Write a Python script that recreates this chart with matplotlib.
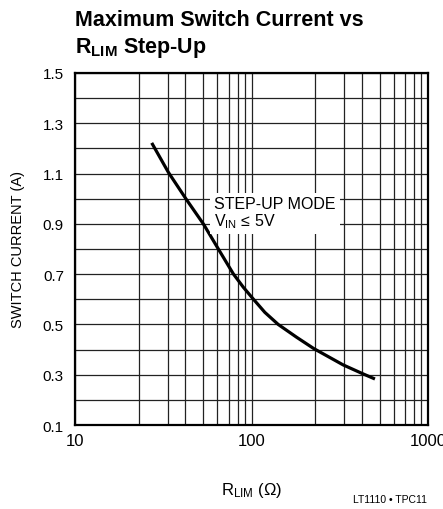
import numpy as np
import matplotlib.pyplot as plt
from matplotlib.ticker import FixedLocator, NullFormatter

# curve (R_LIM in ohm, current in A)
r_lim = [24.5, 30.3, 40.3, 50.0, 61.1, 75.2, 87.7, 102.8, 121, 142, 171, 198, 296, 407, 472]
i_sw = [1.222, 1.105, 0.999, 0.899, 0.800, 0.701, 0.648, 0.601, 0.548,
        0.500, 0.449, 0.404, 0.339, 0.303, 0.283]

y_ticks = [0.1, 0.3, 0.5, 0.7, 0.9, 1.1, 1.3, 1.5]
x_ticks = [10, 100, 1000]

# the printed log paper is not quite logarithmic: where 1..10 fall inside a decade
decade_frac = np.array([0, 0.360, 0.526, 0.626, 0.728, 0.805, 0.870, 0.922, 0.963, 1.0])
mant = np.arange(1, 11)


def fwd(x):
    x = np.asarray(x, float)
    lx = np.log10(np.clip(x, 1e-300, None))
    d = np.floor(lx)
    return d + np.interp(10 ** (lx - d), mant, decade_frac)


def inv(y):
    y = np.asarray(y, float)
    d = np.floor(y)
    return np.interp(y - d, decade_frac, mant) * 10 ** d


plt.rcParams['font.family'] = ['Liberation Sans', 'DejaVu Sans']
plt.rcParams['mathtext.fontset'] = 'custom'
plt.rcParams['mathtext.rm'] = 'Liberation Sans'

fig = plt.figure(figsize=(4.43, 5.10), dpi=100)
ax = fig.add_axes([75 / 443, 1 - 426 / 510, 353 / 443, 352 / 510])

ax.plot(r_lim, i_sw, color='black', lw=2.3, solid_capstyle='butt',
        solid_joinstyle='round', zorder=3)

ax.set_xscale('function', functions=(fwd, inv))
ax.set_xlim(10, 1000)
ax.set_ylim(0.1, 1.5)

ax.xaxis.set_major_locator(FixedLocator(x_ticks))
ax.set_xticklabels(['10', '100', '1000'])
ax.xaxis.set_minor_locator(FixedLocator([m * d for d in (10, 100) for m in range(2, 10)]))
ax.xaxis.set_minor_formatter(NullFormatter())
ax.set_yticks(y_ticks)
ax.set_yticklabels([f'{v:.1f}' for v in y_ticks])
ax.yaxis.set_minor_locator(FixedLocator([0.2, 0.4, 0.6, 0.8, 1.0, 1.2, 1.4]))

ax.tick_params(which='both', length=0)
ax.tick_params(axis='y', labelsize=11, pad=8)
ax.tick_params(axis='x', labelsize=12, pad=6)
ax.grid(True, which='both', color='#222222', lw=0.9)
for s in ax.spines.values():
    s.set_linewidth(1.6)

ax.text(57.7, 1.012, 'STEP-UP MODE\n$\\mathregular{V_{IN}}$ ≤ 5V', fontsize=11.5,
        va='top', ha='left', linespacing=1.05, zorder=4,
        bbox=dict(facecolor='white', edgecolor='none', pad=3))

ax.set_ylabel('SWITCH CURRENT (A)', fontsize=10.5)
ax.yaxis.set_label_coords(-0.142, 0.5)
ax.set_xlabel('$\\mathregular{R_{LIM}}$ (Ω)', fontsize=12)
ax.xaxis.set_label_coords(0.5, -0.155)

fig.text(75 / 443, 1 - 26 / 510, 'Maximum Switch Current vs',
         fontsize=15.5, fontweight='bold', va='baseline', ha='left')
fig.text(75 / 443, 1 - 53 / 510, '$\\mathregular{R_{LIM}}$ Step-Up',
         fontsize=15.5, fontweight='bold', va='baseline', ha='left')
fig.text(427 / 443, 1 - 500 / 510, 'LT1110 • TPC11', fontsize=7.5, ha='right', va='center')

fig.savefig('out.png', dpi=100)
